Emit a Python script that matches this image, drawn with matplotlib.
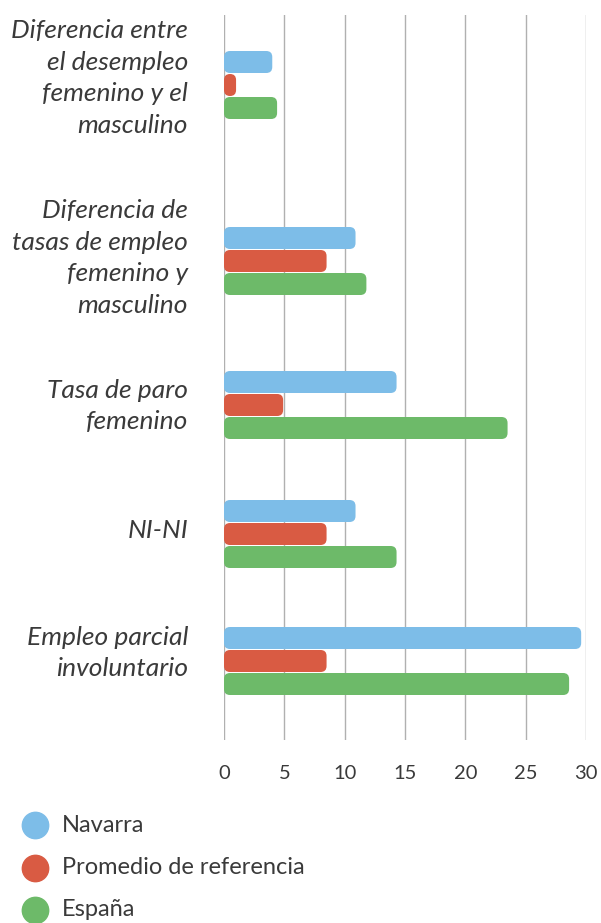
import matplotlib
matplotlib.use('Agg')
import matplotlib.pyplot as plt
from matplotlib.patches import FancyBboxPatch
from matplotlib.lines import Line2D

categories = ['Diferencia entre\nel desempleo\nfemenino y el\nmasculino',
              'Diferencia de\ntasas de empleo\nfemenino y\nmasculino',
              'Tasa de paro\nfemenino',
              'NI-NI',
              'Empleo parcial\ninvoluntario']
series = ['Navarra', 'Promedio de referencia', 'España']
navarra = [4.0, 10.9, 14.3, 10.9, 29.6]
promedio = [1.0, 8.5, 4.9, 8.5, 8.5]
espana = [4.4, 11.8, 23.5, 14.3, 28.6]
xticks = [0, 5, 10, 15, 20, 25, 30]

colors = ['#7dbde8', '#d95b43', '#6dba69']
txt = '#3a3a3a'

W, H = 601, 923
fig = plt.figure(figsize=(W / 100, H / 100), dpi=100)
x0, x1 = 224, 586
ytop, ybot = 15, 740
ax = fig.add_axes([x0 / W, 1 - ybot / H, (x1 - x0) / W, (ybot - ytop) / H])
ax.set_xlim(0, 30)
ax.set_ylim(ybot, ytop)  # y axis in pixel rows

# group centres (pixel rows) and label shifts - layout only
centres = [85, 261, 405, 534, 661]
lab_shift = [-7, -3, 1, -4, -8]
off = 23
bh = 22

px_per_x = (x1 - x0) / 30.0
for k, vals in enumerate([navarra, promedio, espana]):
    ys = [c + (k - 1) * off for c in centres]
    bars = ax.barh(ys, vals, height=bh, color=colors[k])
    for b in bars:
        b.set_visible(False)
        p = FancyBboxPatch((b.get_x(), b.get_y()), b.get_width(), b.get_height(),
                           boxstyle='round,pad=0,rounding_size=%f' % (6 / px_per_x),
                           mutation_aspect=px_per_x, fc=colors[k], ec='none', zorder=3)
        ax.add_patch(p)

ax.set_xticks(xticks)
ax.set_xticklabels([str(t) for t in xticks], fontsize=14.5, color=txt, family='Lato')
ax.tick_params(axis='x', length=0, pad=18)
ax.set_yticks([])
ax.grid(axis='x', color='#b0b0b0', lw=1)
ax.set_axisbelow(True)
for s in ax.spines.values():
    s.set_visible(False)

for lab, c, sh in zip(categories, centres, lab_shift):
    ax.text(-36 / px_per_x, c + sh, lab, ha='right', va='center', fontsize=19,
            style='italic', family='Lato', color=txt, linespacing=1.45)

# legend
for i, name in enumerate(series):
    yy = 1 - (825 + i * 42.5) / H
    fig.add_artist(Line2D([35 / W], [yy], marker='o', markersize=19, color=colors[i],
                          lw=0, transform=fig.transFigure))
    fig.text(62 / W, yy, name, fontsize=17, color=txt, family='Lato', va='center')

fig.savefig('out.png', dpi=100)
